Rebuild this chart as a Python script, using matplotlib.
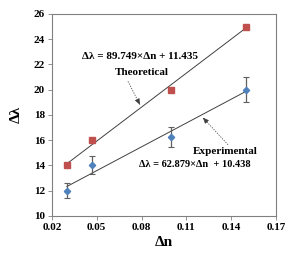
import numpy as np
import matplotlib.pyplot as plt

# data
dn_theory = [0.03, 0.047, 0.10, 0.15]
dl_theory = [14.0, 16.0, 20.0, 25.0]
dn_exp = [0.03, 0.047, 0.10, 0.15]
dl_exp = [12.0, 14.05, 16.25, 20.0]
dl_err = [0.62, 0.7, 0.8, 1.0]
fit_theory = (89.749, 11.435)
fit_exp = (62.879, 10.438)
x_ticks = [0.02, 0.05, 0.08, 0.11, 0.14, 0.17]
y_ticks = [10, 12, 14, 16, 18, 20, 22, 24, 26]

plt.rcParams['font.family'] = ['Liberation Serif', 'DejaVu Serif']
plt.rcParams['font.weight'] = 'bold'

fig = plt.figure(figsize=(3.0, 2.57), dpi=100)
ax = fig.add_axes([0.173, 0.16, 0.747, 0.786])

# fitted lines
xs = np.array([dn_theory[0], dn_theory[-1]])
ax.plot(xs, fit_theory[0] * xs + fit_theory[1], color='#404040', lw=0.7, zorder=2)
xe = np.array([dn_exp[0], dn_exp[-1]])
ax.plot(xe, fit_exp[0] * xe + fit_exp[1], color='#404040', lw=0.7, zorder=2)

# points
ax.plot(dn_theory, dl_theory, 's', color='#C0504D', ms=4.5, zorder=3)
ax.errorbar(dn_exp, dl_exp, yerr=dl_err, fmt='D', color='#4F81BD', ms=3.2,
            ecolor='#606060', elinewidth=0.9, capsize=2.5, capthick=0.8, zorder=3)

ax.set_xlim(0.02, 0.17)
ax.set_ylim(10, 26)
ax.set_xticks(x_ticks)
ax.set_xticklabels([f"{t:g}" for t in x_ticks])
ax.set_yticks(y_ticks)
ax.tick_params(labelsize=8, length=3, width=0.6, color='#808080', direction='out', pad=2)
for s in ax.spines.values():
    s.set_color('#808080')
    s.set_linewidth(0.8)

ax.set_xlabel('Δn', fontsize=11, fontweight='bold', labelpad=3)
ax.set_ylabel('Δλ', fontsize=11, fontweight='bold', labelpad=8)

# annotations with dashed arrows
def dashed_arrow(tip, tail):
    ax.plot([tail[0], tip[0]], [tail[1], tip[1]], ls=(0, (1.5, 1.5)),
            lw=0.6, color='#505050')
    ax.annotate('', xy=tip, xytext=(tip[0] - (tip[0] - tail[0]) * 0.15,
                                    tip[1] - (tip[1] - tail[1]) * 0.15),
                arrowprops=dict(arrowstyle='-|>,head_length=0.35,head_width=0.15',
                                lw=0.5, color='#404040', shrinkA=0, shrinkB=0))

ax.text(0.0789, 22.65, 'Δλ = 89.749×Δn + 11.435', fontsize=8, ha='center', va='center')
ax.text(0.0800, 21.35, 'Theoretical', fontsize=8, ha='center', va='center')
dashed_arrow((0.0789, 18.81), (0.0709, 20.66))
ax.text(0.1359, 15.08, 'Experimental', fontsize=8, ha='center', va='center')
ax.text(0.1155, 14.05, 'Δλ = 62.879×Δn  + 10.438', fontsize=7.5, ha='center', va='center')
dashed_arrow((0.1211, 17.78), (0.1379, 15.63))

fig.savefig('out.png', dpi=100)
